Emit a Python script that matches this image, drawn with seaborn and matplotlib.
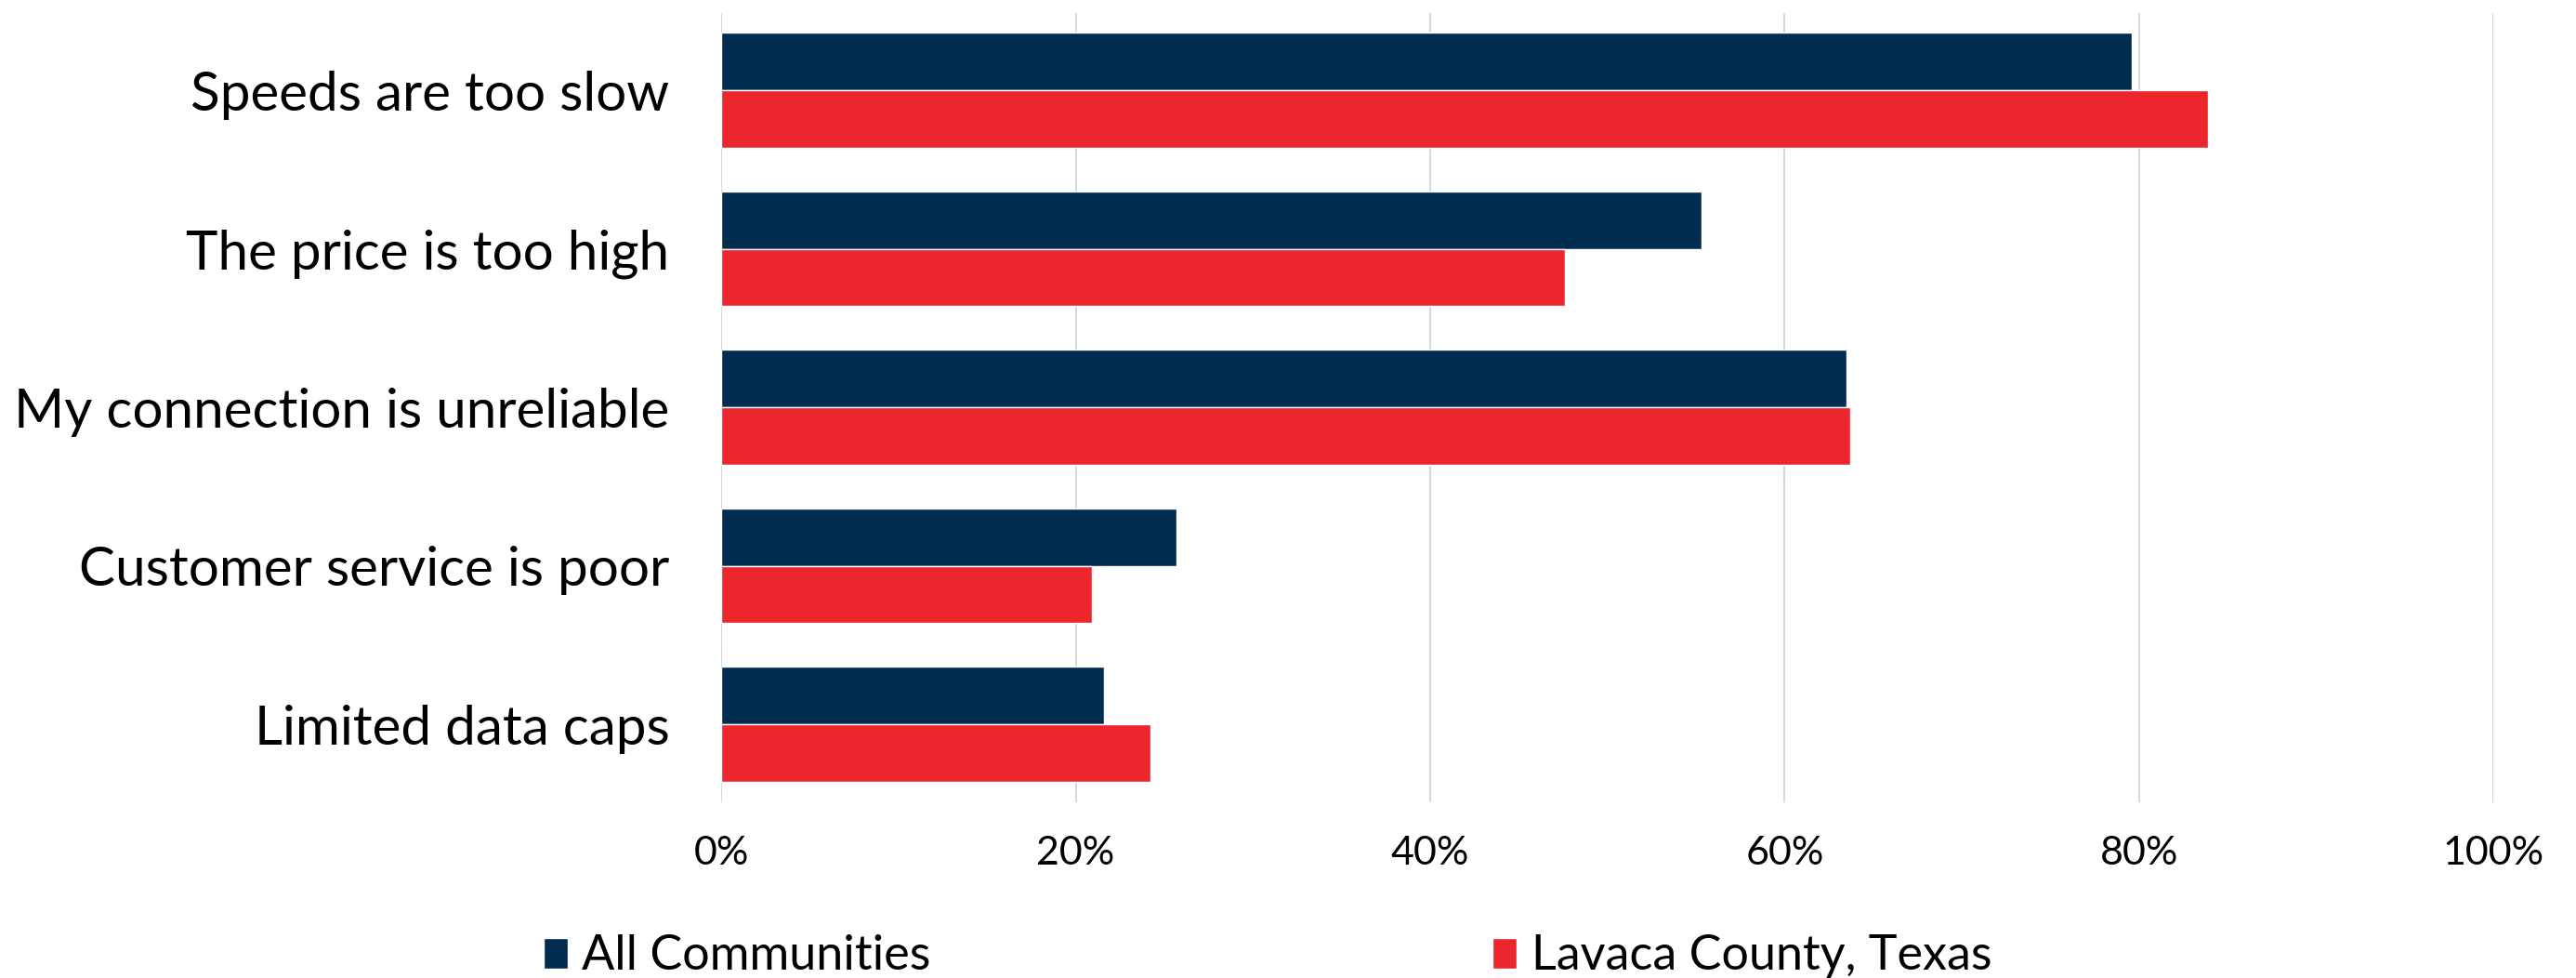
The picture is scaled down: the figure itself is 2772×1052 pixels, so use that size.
import pandas as pd
import matplotlib.pyplot as plt
import seaborn as sns
from matplotlib.ticker import PercentFormatter

# data
reasons = [
    "Speeds are too slow",
    "The price is too high",
    "My connection is unreliable",
    "Customer service is poor",
    "Limited data caps",
]
groups = ["All Communities", "Lavaca County, Texas"]
all_communities = [79.6, 55.3, 63.5, 25.7, 21.6]
lavaca = [83.9, 47.6, 63.7, 20.9, 24.2]
ticks = [0, 20, 40, 60, 80, 100]

df = pd.DataFrame({
    "Reason": reasons * 2,
    "Group": [groups[0]] * len(reasons) + [groups[1]] * len(reasons),
    "Share": all_communities + lavaca,
})

sns.set_theme(style="white")
plt.rcParams["font.family"] = ["Lato", "DejaVu Sans"]
plt.rcParams["text.color"] = "black"

fig = plt.figure(figsize=(27.72, 10.52), dpi=100)
ax = fig.add_axes([0.280, 0.180, 0.688, 0.807])

sns.barplot(
    data=df, y="Reason", x="Share", hue="Group",
    palette=["#022B50", "#EC262D"], width=0.725,
    orient="h", saturation=1, ax=ax, legend=True,
)

ax.set_xlim(0, 100)
ax.set_ylim(4.49, -0.49)
ax.set_xticks(ticks)
ax.xaxis.set_major_formatter(PercentFormatter(decimals=0))
ax.grid(axis="x", color="#D9D9D9", linewidth=1.5)
ax.set_axisbelow(True)
for s in ax.spines.values():
    s.set_visible(False)
ax.set_xlabel("")
ax.set_ylabel("")
ax.tick_params(axis="x", length=0, pad=26, labelsize=31, labelcolor="black")
ax.tick_params(axis="y", length=0, pad=40, labelsize=42, labelcolor="black")

handles, labels = ax.get_legend_handles_labels()
ax.get_legend().remove()
leg = fig.legend(
    handles, labels, loc="lower center", bbox_to_anchor=(0.492, -0.045),
    ncol=2, frameon=False, fontsize=37.5, handlelength=0.5, handleheight=0.6,
    handletextpad=0.3, columnspacing=11.6,
)
for t in leg.get_texts():
    t.set_color("black")

fig.savefig("out.png", dpi=100)
